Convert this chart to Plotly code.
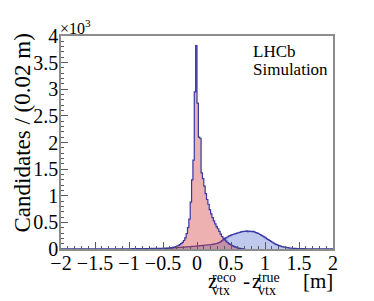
import numpy as np
import plotly.graph_objects as go

BIN_W = 0.02

# Blue (broad) histogram: 200 bins from -2.00 to 2.00
blue_start = -2.0
blue_counts = [
    1, 2, 1, 1, 2, 1, 2, 2, 1, 2, 2, 1, 2, 2, 3, 2, 2, 3, 2, 2,
    2, 3, 2, 3, 3, 2, 3, 3, 2, 3, 3, 3, 4, 3, 3, 4, 3, 4, 4, 3,
    4, 4, 3, 4, 5, 4, 4, 5, 4, 5,
    5, 5, 6, 5, 6, 6, 7, 6, 7, 7, 8, 7, 8, 8, 9, 9, 10, 9, 10, 11,
    11, 12, 12, 13, 14,
    15, 16, 17, 18, 19, 20, 22, 23, 24, 26, 27, 29, 30, 32, 34,
    36, 38, 40, 42, 44, 46, 48, 50, 52, 55,
    57, 60, 62, 64, 67, 70, 72, 75, 78, 80, 84, 88, 92, 97, 103,
    110, 122, 138, 158, 178,
    195, 210, 225, 240, 253, 265, 272, 282, 290, 298,
    305, 312, 320, 326, 333, 330, 341, 328, 338, 331,
    326, 332, 316, 306, 300, 286, 272, 256, 242, 226,
    208, 192, 176, 160, 142, 127, 112, 97, 84, 72,
    62, 53, 46, 40, 34, 29, 24, 21, 18, 15,
    13, 11, 10, 9, 8,
    8, 7, 7, 6, 6, 5, 5, 5, 4, 4, 4, 4, 3, 3, 3, 3, 3, 2, 3, 2,
    2, 2, 2, 2, 2,
]

# Red (narrow) histogram: 60 bins from -0.50 to 0.70
red_start = -0.5
red_counts = [
    4, 6, 8, 11, 14, 18, 23, 30, 38, 46, 56, 68, 82, 100, 125, 160, 210, 290,
    400, 560, 880, 1300, 1670, 2950, 3820,
    2740, 2100, 2080, 1430, 1320, 1180, 1040, 930, 840, 740,
    660, 590, 530, 470, 420, 380, 330, 280, 235, 205,
    172, 148, 122, 102, 86, 70, 57, 45, 35, 26,
    18, 12, 8, 5, 3,
]

x_ticks = [-2, -1.5, -1, -0.5, 0, 0.5, 1, 1.5, 2]
x_tick_labels = ["\u22122", "\u22121.5", "\u22121", "\u22120.5", "0", "0.5", "1", "1.5", "2"]
y_ticks = [0, 500, 1000, 1500, 2000, 2500, 3000, 3500, 4000]
y_tick_labels = ["0", "0.5", "1", "1.5", "2", "2.5", "3", "3.5", "4"]

LINE = "rgb(55,55,165)"
FONT = "Liberation Serif, Times New Roman, DejaVu Serif, serif"


def step_xy(start, counts):
    n = len(counts)
    edges = start + BIN_W * np.arange(n + 1)
    xs = [edges[0]] + list(edges)
    ys = [0] + list(counts) + [0]
    return xs, ys


fig = go.Figure()
bx, by = step_xy(blue_start, blue_counts)
fig.add_trace(go.Scatter(x=bx, y=by, mode="lines", line=dict(color=LINE, width=1.2, shape="hv"),
                         fill="tozeroy", fillcolor="rgba(60,90,200,0.33)", hoverinfo="skip"))
rx, ry = step_xy(red_start, red_counts)
fig.add_trace(go.Scatter(x=rx, y=ry, mode="lines", line=dict(color=LINE, width=1.2, shape="hv"),
                         fill="tozeroy", fillcolor="rgba(210,60,60,0.4)", hoverinfo="skip"))

# target plot-area edges in screen pixels
L, R, T, B = 61, 333, 36, 249
OFF = 8  # page body margin
W, H = 374 - OFF, 301 - OFF


def px(p):
    return (p - L) / (R - L)


def py(p):
    return (B - p) / (B - T)


ann = []


def add(text, x, y, size, xa="left", ya="middle", angle=0):
    ann.append(dict(text=text, x=px(x), y=py(y), xref="paper", yref="paper", showarrow=False,
                    xanchor=xa, yanchor=ya, textangle=angle,
                    font=dict(family=FONT, size=size, color="black"), borderpad=0))


add("Candidates / (0.02 m)", 22, 33, 23, xa="center", ya="top", angle=-90)
add("\u00d710<sup>3</sup>", 59, 27, 16)
add("LHCb", 252, 52, 17)
add("Simulation", 252, 70, 17)
add("z", 212, 281, 21, xa="center")
add("reco", 211, 277, 14)
add("vtx", 211, 290, 14)
add("-", 246, 281, 21, xa="center")
add("z", 256, 281, 21, xa="center")
add("true", 257, 277, 14)
add("vtx", 257, 290, 14)
add("[m]", 334, 281, 21, xa="right")

axis_common = dict(showline=True, linecolor="rgb(140,140,140)", linewidth=1.5, mirror=True,
                   ticks="inside", ticklen=7, tickcolor="rgb(90,90,90)", tickwidth=1,
                   showgrid=False, zeroline=False,
                   tickfont=dict(family=FONT, size=20, color="black"))

fig.update_layout(
    width=W, height=H,
    margin=dict(l=L - OFF, r=W - (R - OFF), t=T - OFF, b=H - (B - OFF)),
    paper_bgcolor="white", plot_bgcolor="white",
    showlegend=False,
    annotations=ann,
    xaxis=dict(range=[-2, 2], tickvals=x_ticks, ticktext=x_tick_labels, ticklabelstandoff=-5,
               minor=dict(dtick=0.1, ticklen=3, ticks="inside", tickcolor="rgb(90,90,90)"),
               **axis_common),
    yaxis=dict(range=[0, 4000], tickvals=y_ticks, ticktext=y_tick_labels, ticklabelstandoff=-3,
               minor=dict(dtick=100, ticklen=3, ticks="inside", tickcolor="rgb(90,90,90)"),
               **axis_common),
)

fig.write_html("out.html")
